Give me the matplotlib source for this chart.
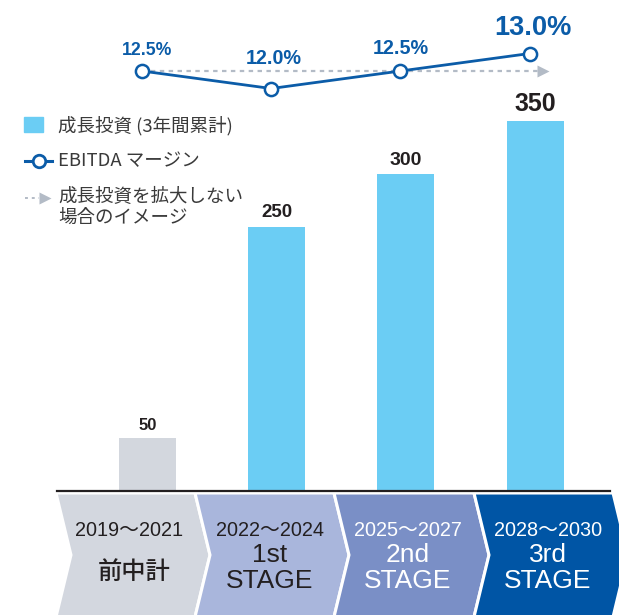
import matplotlib
matplotlib.use('Agg')
import matplotlib.pyplot as plt
from matplotlib.patches import Polygon, Rectangle
from matplotlib.lines import Line2D
import numpy as np

# 期間ごとの成長投資（3年間累計）と EBITDA マージン
periods = ['2019～2021', '2022～2024', '2025～2027', '2028～2030']
stage_names = ['前中計', '1st\nSTAGE', '2nd\nSTAGE', '3rd\nSTAGE']
investment = [50, 250, 300, 350]
ebitda_margin = [12.5, 12.0, 12.5, 13.0]
margin_labels = ['12.5%', '12.0%', '12.5%', '13.0%']

W, H = 619, 615
JP = ['Noto Sans CJK JP', 'DejaVu Sans']
NUM = ['Liberation Sans', 'Noto Sans CJK JP', 'DejaVu Sans']

BLUE_BAR = '#6BCDF4'
GRAY_BAR = '#D3D7DE'
LINE_BLUE = '#0B5CA8'
DOT_GRAY = '#B3BBC6'
DARK = '#231F20'
chevron_colors = ['#D3D7DF', '#A9B6DC', '#7A8FC6', '#0055A5']
chevron_text = [DARK, DARK, 'white', 'white']


def px(x, y):
    # ピクセル座標 -> figure 座標
    return (x / W, 1 - y / H)


fig = plt.figure(figsize=(W / 100, H / 100), dpi=100)
fig.patch.set_facecolor('white')

# 棒グラフ用の軸（下端 = 0）
base_px = 491
ax = fig.add_axes([0, (H - base_px) / H, 1, base_px / H])
ax.set_xlim(-1.1417, 3.649)
ax.set_ylim(0, 464.5)
ax.axis('off')

x = np.arange(len(investment))
bar_colors = [GRAY_BAR] + [BLUE_BAR] * 3
ax.bar(x, investment, width=0.441, color=bar_colors, zorder=2)

bar_label_sizes = [12, 13.5, 14, 18]
for xi, v, fs in zip(x, investment, bar_label_sizes):
    ax.text(xi, v + 5, str(v), ha='center', va='bottom', fontsize=fs,
            fontweight='bold', color=DARK, family=NUM)

# EBITDA マージン（折れ線）
ax2 = ax.twinx()
ax2.set_ylim(0.5, 14.529)
ax2.axis('off')
xl = x - 0.043

# 成長投資を拡大しない場合（点線＋矢印）
ax2.plot([xl[0], 3.02], [ebitda_margin[0]] * 2, color=DOT_GRAY, lw=1.6,
         ls=(0, (2, 2)), zorder=2)
ax2.plot([3.061], [ebitda_margin[0]], marker='>', ms=9, color=DOT_GRAY,
         mec='none', zorder=2)

ax2.plot(xl, ebitda_margin, color=LINE_BLUE, lw=2, marker='o', ms=9.5,
         mfc='white', mec=LINE_BLUE, mew=1.8, zorder=3)

label_sizes = [12.7, 14.2, 14.2, 19.6]
label_offsets = [(3.6, 15), (1.5, 21.6), (0, 16.5), (2.2, 18.7)]
for xi, m, lab, fs, off in zip(xl, ebitda_margin, margin_labels,
                               label_sizes, label_offsets):
    ax2.annotate(lab, (xi, m), xytext=off, textcoords='offset points',
                 ha='center', va='center', fontsize=fs, fontweight='bold',
                 color=LINE_BLUE, family=NUM)

# 凡例（手書き）
legend_fs = 13.3
fig.patches.append(Rectangle(px(24, 132), 19 / W, 15 / H, color=BLUE_BAR,
                             transform=fig.transFigure))
fig.text(*px(58, 126), '成長投資 (3年間累計)', fontsize=legend_fs,
         color='#3A3A3A', va='center', family=JP)

fig.lines.append(Line2D([25 / W, 52 / W], [1 - 161 / H] * 2, color=LINE_BLUE,
                        lw=2.2, transform=fig.transFigure))
fig.lines.append(Line2D([38.5 / W], [1 - 161 / H], marker='o', ms=9,
                        mfc='white', mec=LINE_BLUE, mew=2,
                        transform=fig.transFigure))
fig.text(*px(58, 161), 'EBITDA マージン', fontsize=legend_fs, color='#3A3A3A',
         va='center', family=JP)

fig.lines.append(Line2D([25 / W, 39 / W], [1 - 198 / H] * 2, color=DOT_GRAY,
                        lw=1.4, ls=(0, (1.5, 2)), transform=fig.transFigure))
fig.lines.append(Line2D([45 / W], [1 - 198 / H], marker='>', ms=9,
                        color=DOT_GRAY, mec='none', transform=fig.transFigure))
fig.text(*px(58, 197), '成長投資を拡大しない', fontsize=legend_fs,
         color='#3A3A3A', va='center', family=JP)
fig.text(*px(58, 218), '場合のイメージ', fontsize=legend_fs, color='#3A3A3A',
         va='center', family=JP)

# 基準線
fig.lines.append(Line2D([57 / W, 610 / W], [1 - base_px / H] * 2, color=DARK,
                        lw=1.6, transform=fig.transFigure, zorder=5))

# 期間の矢羽根
bounds = [56, 195, 334, 474, 613]
tip = 15
top, mid, bot = 493, 555, 617
for i in range(4):
    l, r = bounds[i], bounds[i + 1]
    pts = [px(l, top), px(r, top), px(r + tip, mid), px(r, bot),
           px(l, bot), px(l + tip, mid)]
    fig.patches.append(Polygon(pts, closed=True, facecolor=chevron_colors[i],
                               edgecolor='white', lw=2.2,
                               transform=fig.transFigure, zorder=1))

chev_cx = [129, 270, 408, 548]
for i, cx in enumerate(chev_cx):
    c = chevron_text[i]
    fig.text(*px(cx, 530), periods[i], fontsize=14.3, color=c, ha='center',
             va='center', family=NUM)
    if i == 0:
        fig.text(*px(cx + 5, 572), stage_names[i], fontsize=17.5, color=c,
                 ha='center', va='center', family=JP, fontweight='medium')
    else:
        top_line, bottom_line = stage_names[i].split('\n')
        fig.text(*px(cx, 555), top_line, fontsize=19, color=c,
                 ha='center', va='center', family=NUM)
        fig.text(*px(cx, 581), bottom_line, fontsize=19, color=c,
                 ha='center', va='center', family=NUM)

fig.savefig('out.png', dpi=100)
